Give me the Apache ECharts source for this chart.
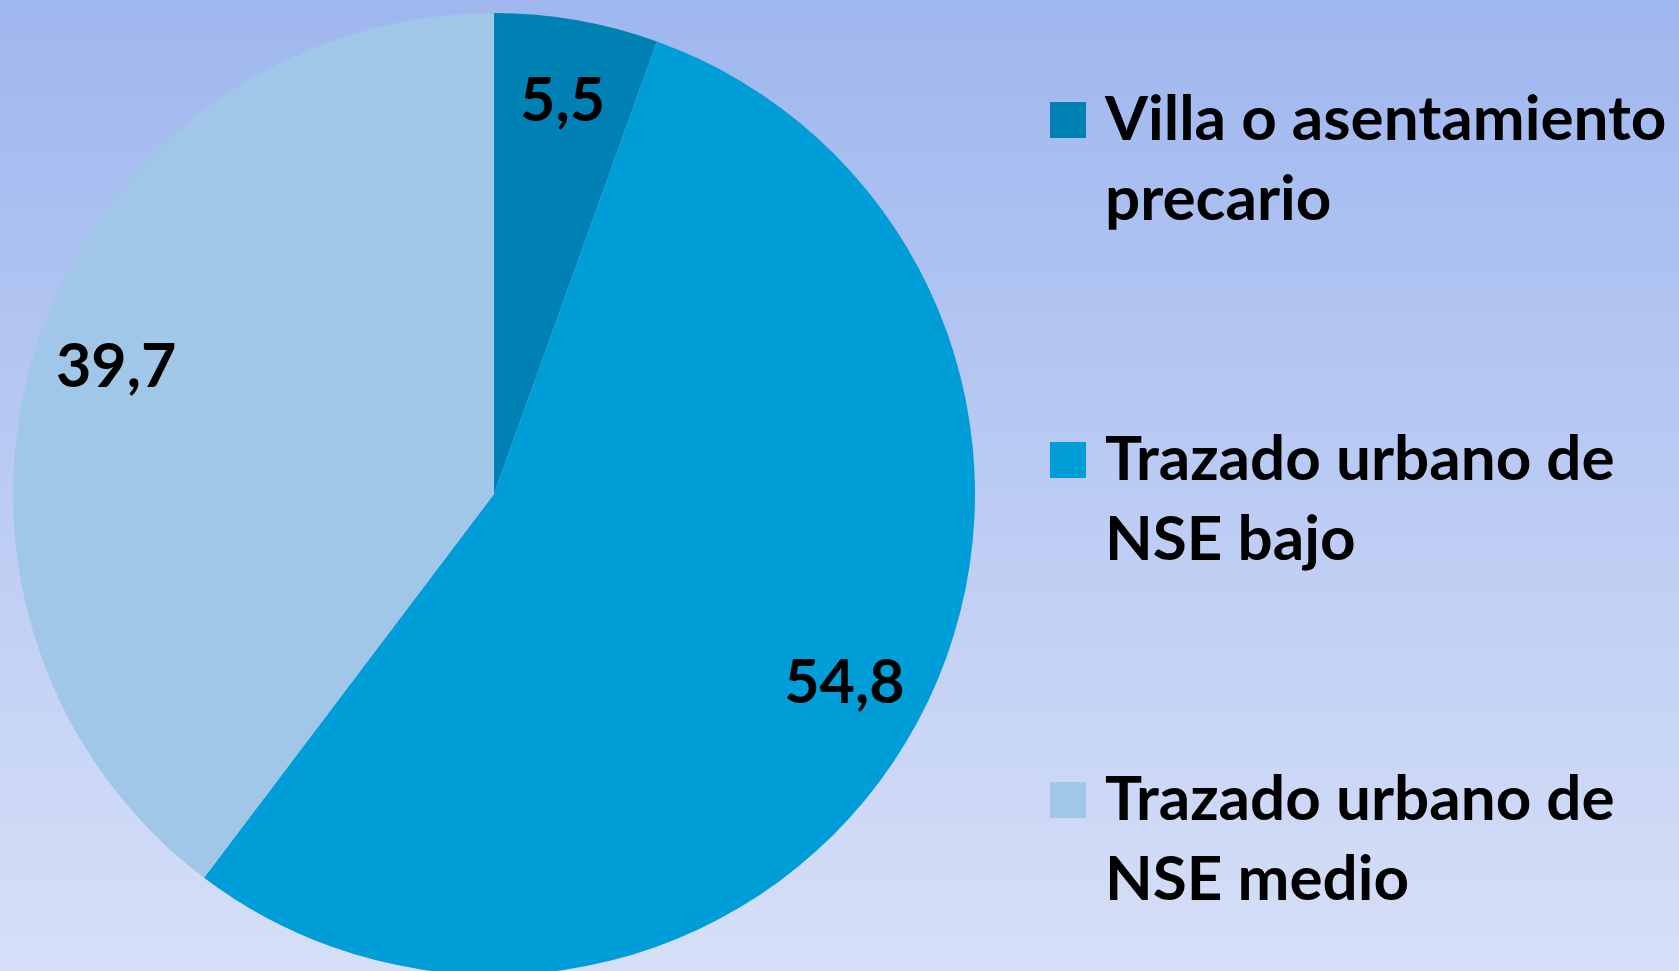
<!DOCTYPE html>
<html>
<head>
<meta charset="utf-8">
<script src="https://cdn.jsdelivr.net/npm/echarts@6/dist/echarts.min.js"></script>
<style>
html,body{margin:0;padding:0;}
#main{width:1679px;height:971px;}
</style>
</head>
<body>
<div id="main"></div>
<script>
/*datos del gráfico*/
var categorias=["Villa o asentamiento precario","Trazado urbano de NSE bajo","Trazado urbano de NSE medio"];
var valores=[5.5,54.8,39.7];
var colores=["#0081B4","#009ED9","#A0C6E8"];
//texto de leyenda en dos renglones
var leyenda=["Villa o asentamiento\nprecario","Trazado urbano de\nNSE bajo","Trazado urbano de\nNSE medio"];

var datos=[];
for(var i=0;i<categorias.length;i++){
    datos.push({name:categorias[i],value:valores[i],itemStyle:{color:colores[i]}});
}

var chart=echarts.init(document.getElementById("main"));
chart.setOption({
    animation:false,
    backgroundColor:new echarts.graphic.LinearGradient(0,0,0,1,[
        {offset:0,color:"#9FB7EF"},
        {offset:1,color:"#D6DFF7"}
    ]),
    legend:{
        orient:"vertical",
        left:1050,
        top:0,
        padding:0,
        itemGap:100,
        itemWidth:36,
        itemHeight:36,
        icon:"rect",
        data:categorias,
        //renglón vacío arriba para que el primer renglón quede a la altura del cuadrado
        formatter:function(name){return "\n"+leyenda[categorias.indexOf(name)];},
        textStyle:{
            fontFamily:"Lato",
            fontWeight:"bold",
            fontSize:62,
            lineHeight:80,
            color:"#000",
            padding:[0,0,0,14]
        }
    },
    series:[
        {
            //torta principal
            type:"pie",
            center:[494,494],
            radius:481,
            startAngle:90,
            silent:true,
            label:{show:false},
            labelLine:{show:false},
            data:datos
        },
        {
            //anillo transparente solo para ubicar las etiquetas
            type:"pie",
            center:[494,494],
            radius:[310,481],
            startAngle:90,
            silent:true,
            itemStyle:{color:"rgba(0,0,0,0)"},
            label:{
                show:true,
                position:"inside",
                fontFamily:"Lato",
                fontWeight:"bold",
                fontSize:61,
                color:"#000",
                formatter:function(p){return p.value.toFixed(1).replace(".",",");}
            },
            labelLine:{show:false},
            data:categorias.map(function(n,i){return {name:n,value:valores[i]};})
        }
    ]
});
</script>
</body>
</html>
